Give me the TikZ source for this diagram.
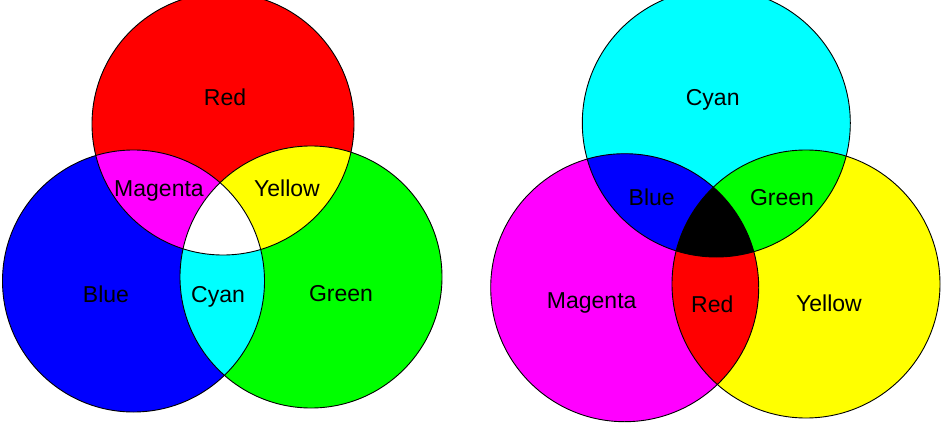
\documentclass[tikz,border=0pt]{standalone}
\usepackage{fontspec}
\setmainfont{Liberation Sans}
\definecolor{cR}{RGB}{255,0,0}
\definecolor{cG}{RGB}{0,255,0}
\definecolor{cB}{RGB}{0,0,255}
\definecolor{cC}{RGB}{0,255,255}
\definecolor{cM}{RGB}{255,0,255}
\definecolor{cY}{RGB}{255,255,0}
\begin{document}
\begin{tikzpicture}[x=1pt,y=-1pt,
  lbl/.style={anchor=base,inner sep=0pt,font=\fontsize{23}{23}\selectfont},
  rim/.style={draw=black,line width=0.9pt}]
\useasboundingbox (0,0) rectangle (950,425);
\clip (0,0) rectangle (950,425);
% ---------- additive (left) ----------
\def\rA{131}
\coordinate (R) at (223,124);
\coordinate (B) at (133.5,281);
\coordinate (G) at (311,277);
\fill[cR] (R) circle (\rA);
\fill[cB] (B) circle (\rA);
\fill[cG] (G) circle (\rA);
\begin{scope}\clip (R) circle (\rA); \fill[cM] (B) circle (\rA);\end{scope}
\begin{scope}\clip (R) circle (\rA); \fill[cY] (G) circle (\rA);\end{scope}
\begin{scope}\clip (B) circle (\rA); \fill[cC] (G) circle (\rA);\end{scope}
\begin{scope}\clip (R) circle (\rA); \clip (B) circle (\rA); \fill[white] (G) circle (\rA);\end{scope}
\draw[rim] (R) circle (\rA);
\draw[rim] (B) circle (\rA);
\draw[rim] (G) circle (\rA);
\node[lbl] (lRed) at (225,106) {Red};
\node[lbl] (lMag) at (159,196) {Magenta};
\node[lbl] (lYel) at (287,196) {Yellow};
\node[lbl] (lBlu) at (106,302.5) {Blue};
\node[lbl] (lCya) at (218,302.5) {Cyan};
\node[lbl] (lGre) at (341,301) {Green};
% ---------- subtractive (right) ----------
\def\rB{134}
\coordinate (C) at (716.3,123);
\coordinate (M) at (624.7,287.7);
\coordinate (Y) at (806,284);
\fill[cC] (C) circle (\rB);
\fill[cM] (M) circle (\rB);
\fill[cY] (Y) circle (\rB);
\begin{scope}\clip (C) circle (\rB); \fill[cB] (M) circle (\rB);\end{scope}
\begin{scope}\clip (C) circle (\rB); \fill[cG] (Y) circle (\rB);\end{scope}
\begin{scope}\clip (M) circle (\rB); \fill[cR] (Y) circle (\rB);\end{scope}
\begin{scope}\clip (C) circle (\rB); \clip (M) circle (\rB); \fill[black] (Y) circle (\rB);\end{scope}
\draw[rim] (C) circle (\rB);
\draw[rim] (M) circle (\rB);
\draw[rim] (Y) circle (\rB);
\node[lbl] (rCya) at (712.7,106) {Cyan};
\node[lbl] (rBlu) at (651.7,205) {Blue};
\node[lbl] (rGre) at (782,205) {Green};
\node[lbl] (rMag) at (591.7,308.7) {Magenta};
\node[lbl] (rRed) at (712.3,312.5) {Red};
\node[lbl] (rYel) at (829,311.7) {Yellow};
\end{tikzpicture}
\end{document}
